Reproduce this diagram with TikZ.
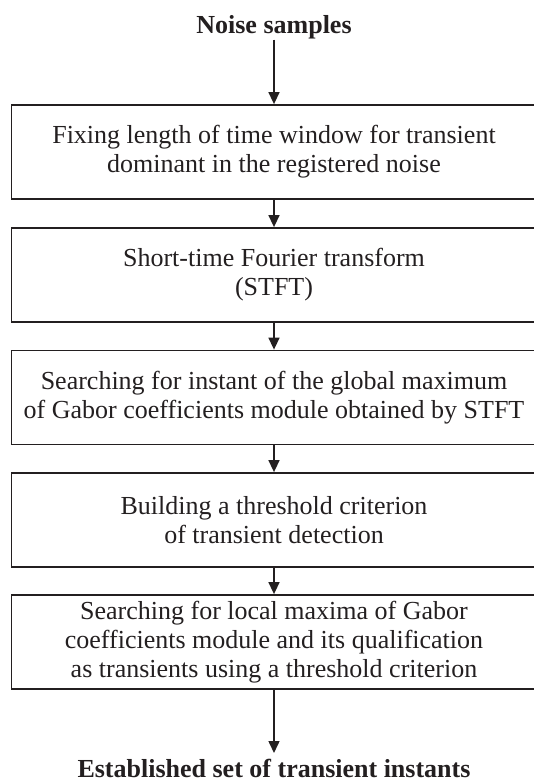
\documentclass[tikz,border=0pt]{standalone}
\usepackage{fontspec}
\setmainfont{Liberation Serif}
\usetikzlibrary{arrows.meta}
\definecolor{ink}{RGB}{35,31,32}
\begin{document}
\begin{tikzpicture}[x=1pt,y=-1pt,
  stage/.style={draw=ink, line width=1.8pt, minimum width=525pt,
    minimum height=94pt, inner sep=0pt, align=center, text=ink,
    font=\fontsize{26}{29}\selectfont},
  endlabel/.style={font=\fontsize{26}{29}\selectfont\bfseries, text=ink,
    inner sep=1pt},
  flow/.style={draw=ink, line width=1.5pt,
    -{Triangle[length=12pt,width=11pt]}}]
\useasboundingbox (0,0) rectangle (534,782);

% input and output labels
\node[endlabel, anchor=base] (in) at (274,33) {Noise samples};
\node[endlabel, anchor=base] (out) at (274,777) {Established set of transient instants};
\coordinate (outtip) at (274,753);

% processing stages
\node[stage] (s1) at (274,152)
  {Fixing length of time window for transient\\dominant in the registered noise};
\node[stage] (s2) at (274,275)
  {Short-time Fourier transform\\(STFT)};
\node[stage] (s3) at (274,397.5)
  {Searching for instant of the global maximum\\of Gabor coefficients module obtained by STFT};
\node[stage] (s4) at (274,520)
  {Building a threshold criterion\\of transient detection};
\node[stage] (s5) at (274,642)
  {Searching for local maxima of Gabor\\coefficients module and its qualification\\as transients using a threshold criterion};

% connectors
\draw[flow] (in.south) -- (s1.north);
\draw[flow] (s1.south) -- (s2.north);
\draw[flow] (s2.south) -- (s3.north);
\draw[flow] (s3.south) -- (s4.north);
\draw[flow] (s4.south) -- (s5.north);
\draw[flow] (s5.south) -- (outtip);
\end{tikzpicture}
\end{document}
